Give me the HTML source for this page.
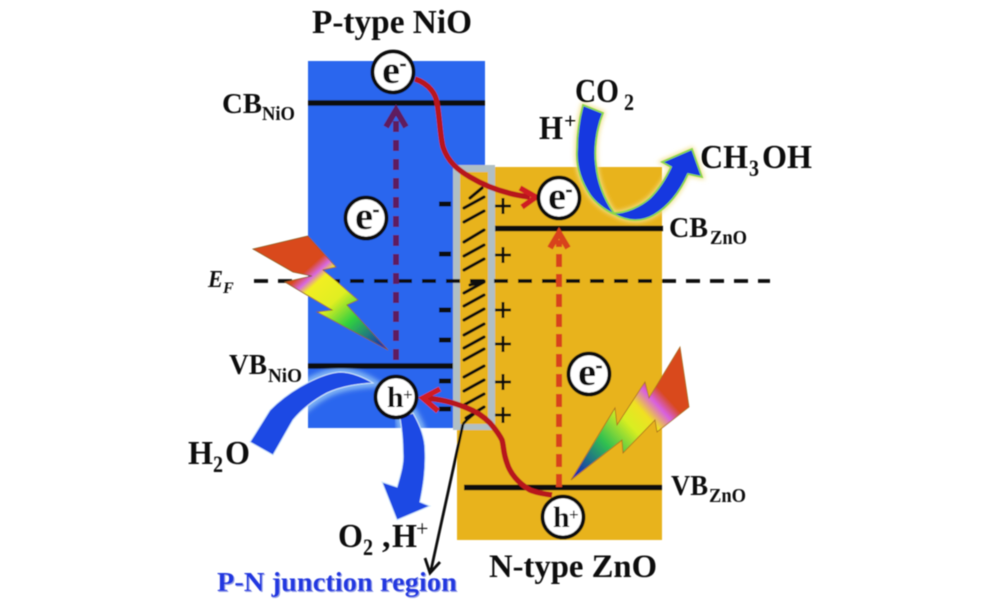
<!DOCTYPE html>
<html><head><meta charset="utf-8"><style>
html,body{margin:0;padding:0;background:#fff;width:1000px;height:612px;overflow:hidden}
svg{display:block}
text{font-family:"Liberation Serif",serif;font-weight:bold;fill:#111}
</style></head><body>
<svg width="1000" height="612" viewBox="0 0 1000 612" xmlns="http://www.w3.org/2000/svg">
<defs>
<linearGradient id="lg1" gradientUnits="userSpaceOnUse" x1="300" y1="255" x2="385" y2="350">
<stop offset="0" stop-color="#d9481e"/><stop offset=".12" stop-color="#d9481e"/><stop offset=".19" stop-color="#d868e0"/><stop offset=".25" stop-color="#f2ee20"/><stop offset=".45" stop-color="#e0ee20"/><stop offset=".65" stop-color="#30d040"/><stop offset="1" stop-color="#1020c0"/>
</linearGradient>
<linearGradient id="lg2" gradientUnits="userSpaceOnUse" x1="575" y1="478" x2="688" y2="375">
<stop offset="0" stop-color="#1020c0"/><stop offset=".3" stop-color="#30c050"/><stop offset=".5" stop-color="#d8ee20"/><stop offset=".62" stop-color="#f0e020"/><stop offset=".72" stop-color="#d860e0"/><stop offset=".8" stop-color="#d9481e"/><stop offset="1" stop-color="#d9481e"/>
</linearGradient>
<filter id="soft" x="-5%" y="-5%" width="110%" height="110%"><feGaussianBlur stdDeviation="0.5"/></filter>
<filter id="glow" x="-20%" y="-20%" width="140%" height="140%"><feGaussianBlur stdDeviation="2.500"/></filter>
<clipPath id="blueclip"><rect x="308" y="368" width="145" height="60"/></clipPath>
</defs>
<g filter="url(#soft)">
<rect x="308" y="61" width="177" height="367" fill="#2b66ee"/>
<rect x="457" y="167" width="205" height="373" fill="#e8b31c"/>
<rect x="453" y="165" width="42" height="265" fill="#b0bfc4"/>
<rect x="460" y="172" width="28" height="252" fill="#e8b31c"/>

<g stroke="#111" stroke-width="3.200" stroke-linecap="round">
<path d="M470 198L482 188M464 208L484 197M464 222L484 211M464 242L484 230M464 256L484 245M464 270L484 259M470 285L484 281M464 293L484 282M464 306L484 295M464 320L484 309M464 335L484 324M464 348L484 337M464 360L484 349M464 377L484 366M464 391L484 380M464 405L484 394M466 418L484 407"/>
</g>
<g stroke="#111" stroke-width="5">
<path d="M439 204H451M439 254H451M439 310H451M439 340H451M439 381H451M439 409H451"/>
</g>
<g stroke="#111" stroke-width="2.800">
<path d="M495 206H511M503 198V214M495 255H511M503 247V263M495 310H511M503 302V318M495 344H511M503 336V352M495 382H511M503 374V390M495 415H511M503 407V423"/>
</g>

<path d="M308 103H485M495 228.500H663M464 487.500H662M308 366H453" stroke="#0a0a0a" stroke-width="5.500" fill="none"/>
<path d="M254 281H770" stroke="#0a0a0a" stroke-width="3.800" stroke-dasharray="14 10" fill="none"/>

<path d="M396 360V116" stroke="#5e1c5e" stroke-width="6" stroke-dasharray="11 8" fill="none"/>
<path d="M386 127L396 110L406 127" stroke="#5e1c5e" stroke-width="6" fill="none"/>
<path d="M559 487V240" stroke="#d8431c" stroke-width="6" stroke-dasharray="13 7" fill="none"/>
<path d="M550 248L559 233L568 248" stroke="#d8431c" stroke-width="6" fill="none"/>

<g clip-path="url(#blueclip)">
<path d="M340 372C326 373 312 380 300 387C288 394 278 402 270 410L250 442L273 455C280 443 286 432 293 420C303 408 314 400 327 393C342 386 358 384 373 383C365 378 352 372 340 372Z" fill="#7fb2f4" stroke="#7fb2f4" stroke-width="9" filter="url(#glow)"/>
<path d="M400 418L413 413C420 425 425 437 425 450L403 453C403 440 402 430 400 418Z" fill="#7fb2f4" stroke="#7fb2f4" stroke-width="9" filter="url(#glow)"/>
</g>
<path d="M340 372C326 373 312 380 300 387C288 394 278 402 270 410L250 442L273 455C280 443 286 432 293 420C303 408 314 400 327 393C342 386 358 384 373 383C365 378 352 372 340 372Z" fill="#1c48e4" stroke="#cfe8fa" stroke-width="1"/>
<path d="M400 418L413 413C420 425 425 437 425 450C426 470 423 487 420 502L430 506L397 520L382 482L397 487C401 473 404 463 403 453C403 440 402 430 400 418Z" fill="#1c48e4" stroke="#cfe8fa" stroke-width="1"/>

<path d="M583 105L603 113C596 130 594 150 596 165C598 185 605 200 614 213C625 213 640 207 650 198C658 190 665 180 671 167L662 162L692 149L702 177L688 174C680 192 668 207 654 215C642 222 628 222 614 214C604 210 595 202 590 195C580 180 576 165 577 150C577 135 579 120 583 105Z" fill="#f2e08a" stroke="#f2e08a" stroke-width="4" filter="url(#glow)"/>
<path d="M583 105L603 113C596 130 594 150 596 165C598 185 605 200 614 213C625 213 640 207 650 198C658 190 665 180 671 167L662 162L692 149L702 177L688 174C680 192 668 207 654 215C642 222 628 222 614 214C604 210 595 202 590 195C580 180 576 165 577 150C577 135 579 120 583 105Z" fill="#1438e0" stroke="#8ad84a" stroke-width="1.800"/>

<path d="M415 79C430 84 436 95 437 103C440 120 440 135 443 147C448 162 458 170 470 177C485 186 505 194 530 197" fill="none" stroke="#b8141c" stroke-width="5.500"/>
<path d="M520 188L536 197L522 207" fill="none" stroke="#cf1f22" stroke-width="5.500"/>
<path d="M552 495C545 494 537 493 530 490C518 483 510 473 507 463C503 452 504 447 502 440C498 432 494 428 490 423C483 416 475 411 467 408C452 402 440 399 424 398" fill="none" stroke="#b8141c" stroke-width="5.500"/>
<path d="M440 389L423 398L438 411" fill="none" stroke="#cf1f22" stroke-width="5.500"/>

<path d="M463 424C468 418 470 417 474 414" fill="none" stroke="#111" stroke-width="2.800"/>
<path d="M463 424L431 570" fill="none" stroke="#111" stroke-width="2.800"/>
<path d="M425 558L430 573L440 562" fill="none" stroke="#111" stroke-width="2.800"/>

<polygon points="253,249 308,236 336,267 323,270 335,280 358,300 347,305 388,350 317,312 332,310 285,282 312,276 293,272" fill="url(#lg1)" stroke="#8a5a1c" stroke-width=".8"/>
<polygon points="680,347 689,407 657,432 655,420 623,453 622,440 571,480 615,408 617,425 645,382 649,398" fill="url(#lg2)" stroke="#a86a20" stroke-width=".8"/>

<g fill="#fff" stroke="#0a0a0a" stroke-width="3.800">
<circle cx="393" cy="72" r="20.500"/><circle cx="366" cy="218" r="20.500"/><circle cx="559" cy="198" r="20.500"/><circle cx="396" cy="397" r="20.500"/><circle cx="563" cy="517" r="20.500"/><circle cx="589" cy="374" r="20.500"/>
</g>

<g font-size="39">
<text x="382" y="83" textLength="18" lengthAdjust="spacingAndGlyphs">e</text><text x="355" y="229" textLength="18" lengthAdjust="spacingAndGlyphs">e</text><text x="548" y="209" textLength="18" lengthAdjust="spacingAndGlyphs">e</text><text x="578" y="385" textLength="18" lengthAdjust="spacingAndGlyphs">e</text>
</g>
<path d="M400 65H406M373 211H379M566 191H572M596 367H602" stroke="#111" stroke-width="2.500"/>
<g font-size="30"><text x="387" y="407">h</text><text x="553" y="527">h</text></g>
<g font-size="17" style="font-weight:normal"><text x="403" y="400">+</text><text x="569" y="520">+</text></g>

<text x="312" y="33" font-size="34" textLength="160" lengthAdjust="spacingAndGlyphs">P-type NiO</text>
<text x="222" y="113" font-size="28" textLength="40" lengthAdjust="spacingAndGlyphs">CB</text>
<text x="262" y="120" font-size="20" textLength="33" lengthAdjust="spacingAndGlyphs">NiO</text>
<text x="208" y="287" font-size="24" font-style="italic" textLength="15" lengthAdjust="spacingAndGlyphs">E</text>
<text x="223" y="293" font-size="16" font-style="italic">F</text>
<text x="539" y="139" font-size="34" textLength="24" lengthAdjust="spacingAndGlyphs">H</text>
<text x="564" y="128" font-size="22">+</text>
<text x="575" y="102" font-size="34" textLength="44" lengthAdjust="spacingAndGlyphs">CO</text>
<text x="624" y="110" font-size="23" textLength="10" lengthAdjust="spacingAndGlyphs">2</text>
<text x="700" y="168" font-size="34" textLength="48" lengthAdjust="spacingAndGlyphs">CH</text>
<text x="749" y="176" font-size="23" textLength="10" lengthAdjust="spacingAndGlyphs">3</text>
<text x="762" y="168" font-size="34" textLength="50" lengthAdjust="spacingAndGlyphs">OH</text>
<text x="669" y="237" font-size="28" textLength="39" lengthAdjust="spacingAndGlyphs">CB</text>
<text x="710" y="244" font-size="20" textLength="37" lengthAdjust="spacingAndGlyphs">ZnO</text>
<text x="229" y="374" font-size="28" textLength="38" lengthAdjust="spacingAndGlyphs">VB</text>
<text x="268" y="382" font-size="20" textLength="34" lengthAdjust="spacingAndGlyphs">NiO</text>
<text x="671" y="495" font-size="28" textLength="37" lengthAdjust="spacingAndGlyphs">VB</text>
<text x="709" y="502" font-size="20" textLength="37" lengthAdjust="spacingAndGlyphs">ZnO</text>
<text x="188" y="464" font-size="34" textLength="25" lengthAdjust="spacingAndGlyphs">H</text>
<text x="213" y="472" font-size="23" textLength="10" lengthAdjust="spacingAndGlyphs">2</text>
<text x="225" y="464" font-size="34" textLength="25" lengthAdjust="spacingAndGlyphs">O</text>
<text x="338" y="547" font-size="34" textLength="25" lengthAdjust="spacingAndGlyphs">O</text>
<text x="363" y="555" font-size="23" textLength="10" lengthAdjust="spacingAndGlyphs">2</text>
<text x="382" y="547" font-size="34">,</text>
<text x="392" y="547" font-size="34" textLength="25" lengthAdjust="spacingAndGlyphs">H</text>
<text x="416" y="536" font-size="22" style="font-weight:normal">+</text>
<text x="489" y="577" font-size="33" textLength="168" lengthAdjust="spacingAndGlyphs">N-type ZnO</text>
<text x="218" y="592" font-size="27" textLength="240" lengthAdjust="spacingAndGlyphs" style="fill:#9aa6e8">P-N junction region</text>
<text x="217" y="591" font-size="27" textLength="240" lengthAdjust="spacingAndGlyphs" style="fill:#2438e0">P-N junction region</text>
</g>
</svg>
</body></html>
